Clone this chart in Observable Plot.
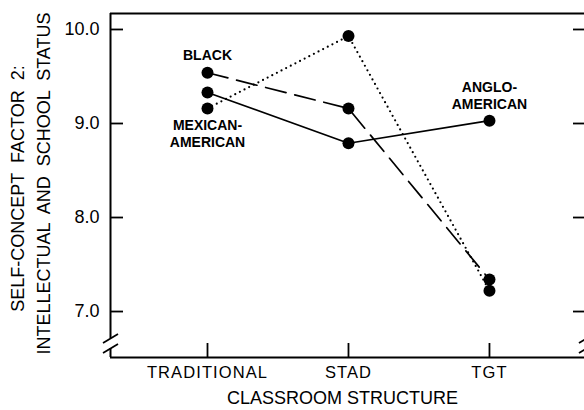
<!DOCTYPE html>
<html><head><meta charset="utf-8">
<script src="https://cdn.jsdelivr.net/npm/d3@7"></script>
<script src="https://cdn.jsdelivr.net/npm/@observablehq/plot@0.6"></script>
<style>
html,body{margin:0;padding:0;background:#fff;overflow:hidden}
</style></head><body><div id="chart"></div>
<script>
const categories = ["TRADITIONAL", "STAD", "TGT"];
const angloAmerican = [9.33, 8.79, 9.03];
const black = [9.54, 9.16, 7.34];
const mexicanAmerican = [9.16, 9.93, 7.22];
const yTicks = [7.0, 8.0, 9.0, 10.0];
const xTitle = "CLASSROOM STRUCTURE";
const yTitle1 = "SELF-CONCEPT  FACTOR  2:";
const yTitle2 = "INTELLECTUAL  AND  SCHOOL  STATUS";

const W = 584, H = 410, mL = 110, mR = 0, mT = 13, mB = 53;
const xmin = -0.688, xmax = 2.674, xRight = 2.688;
const ymin = 6.511, ymax = 10.170;
const kx = (W - mL - mR) / (xmax - xmin);
const ky = (H - mT - mB) / (ymax - ymin);
const breakTop = 6.713, breakBot = 6.606;

const toRows = (arr, s) => arr.map((v, i) => ({series: s, i, v}));
const rowsA = toRows(angloAmerican, "ANGLO-AMERICAN");
const rowsB = toRows(black, "BLACK");
const rowsM = toRows(mexicanAmerican, "MEXICAN-AMERICAN");

// break slashes (decoration) at the frame sides
const sdx = 7.5 / kx, sdy = 4.5 / ky;
const slashes = [];
for (const xf of [xmin, xRight]) for (const c of [breakTop, breakBot])
  slashes.push({x1: xf - sdx, y1: c - sdy, x2: xf + sdx, y2: c + sdy});

const fw = W - mL - mR, fh = H - mT - mB;

const chart = Plot.plot({
  width: W, height: H,
  marginLeft: mL, marginRight: mR, marginTop: mT, marginBottom: mB,
  style: {fontFamily: "Liberation Sans, Arial, sans-serif", background: "white", color: "black"},
  x: {type: "linear", domain: [xmin, xmax], axis: null},
  y: {type: "linear", domain: [ymin, ymax], axis: null},
  marks: [
    Plot.axisY(yTicks, {anchor: "left", tickSize: 0, tickPadding: 11, tickFormat: d => d.toFixed(1), fontSize: 18, label: null}),
    Plot.axisX([0, 1, 2], {anchor: "bottom", tickSize: 0, tickPadding: 9, tickFormat: i => categories[i], fontSize: 16.5, label: null}),
    // frame
    Plot.ruleY([ymax], {x1: xmin, x2: xRight, strokeWidth: 2}),
    Plot.ruleY([ymin], {x1: xmin, x2: xRight, strokeWidth: 2}),
    Plot.ruleX([xmin, xRight], {y1: breakTop, y2: ymax, strokeWidth: 2}),
    Plot.ruleX([xmin, xRight], {y1: ymin, y2: breakBot, strokeWidth: 2}),
    Plot.link(slashes, {x1: "x1", y1: "y1", x2: "x2", y2: "y2", strokeWidth: 1.8}),
    // ticks
    Plot.tickY(yTicks, {y: d => d, insetRight: fw - 13, strokeWidth: 1.8}),
    Plot.tickY(yTicks, {y: d => d, insetLeft: fw - 11, strokeWidth: 1.8}),
    Plot.tickX([0, 1, 2], {x: d => d, insetTop: fh - 14, strokeWidth: 1.8}),
    // series
    Plot.line(rowsA, {x: "i", y: "v", stroke: "black", strokeWidth: 1.7}),
    Plot.line(rowsB, {x: "i", y: "v", stroke: "black", strokeWidth: 1.7, strokeDasharray: "21,9"}),
    Plot.line(rowsM, {x: "i", y: "v", stroke: "black", strokeWidth: 2.2, strokeDasharray: "0,5.2", strokeLinecap: "round"}),
    Plot.dot([...rowsA, ...rowsB, ...rowsM], {x: "i", y: "v", r: 6, fill: "black", stroke: "none"}),
    // series labels
    Plot.text([rowsB[0]], {x: "i", y: "v", text: () => "BLACK", dy: -17, fontSize: 14, fontWeight: "bold", ariaLabel: "slabel"}),
    Plot.text([rowsM[0]], {x: "i", y: "v", text: () => "MEXICAN-\nAMERICAN", dy: 25, lineHeight: 1.22, fontSize: 14, fontWeight: "bold", ariaLabel: "slabel"}),
    Plot.text([rowsA[2]], {x: "i", y: "v", text: () => "ANGLO-\nAMERICAN", dy: -26, lineHeight: 1.22, fontSize: 14, fontWeight: "bold", ariaLabel: "slabel"}),
    // titles
    Plot.text([xTitle], {frameAnchor: "bottom", textAnchor: "middle", lineAnchor: "middle", dy: 41, dx: -5, fontSize: 18, ariaLabel: "title"}),
    Plot.text([yTitle1], {frameAnchor: "left", textAnchor: "middle", lineAnchor: "middle", dx: -92, dy: 3, rotate: -90, fontSize: 18, ariaLabel: "ytitle1"}),
    Plot.text([yTitle2], {frameAnchor: "left", textAnchor: "middle", lineAnchor: "middle", dx: -66, dy: -2, rotate: -90, fontSize: 18, ariaLabel: "ytitle2"})
  ]
});
document.getElementById("chart").appendChild(chart);
const svg = d3.select(chart);
svg.selectAll('g[aria-label="title"] text').style("letter-spacing", "2px");
svg.selectAll('g[aria-label="ytitle1"] text').style("letter-spacing", "2.6px");
svg.selectAll('g[aria-label="ytitle2"] text').style("letter-spacing", "1.9px");
svg.selectAll('g[aria-label="slabel"] text').style("letter-spacing", "0.8px");
svg.selectAll('g[aria-label="x-axis tick label"] text').style("letter-spacing", "1.1px");
</script></body></html>
